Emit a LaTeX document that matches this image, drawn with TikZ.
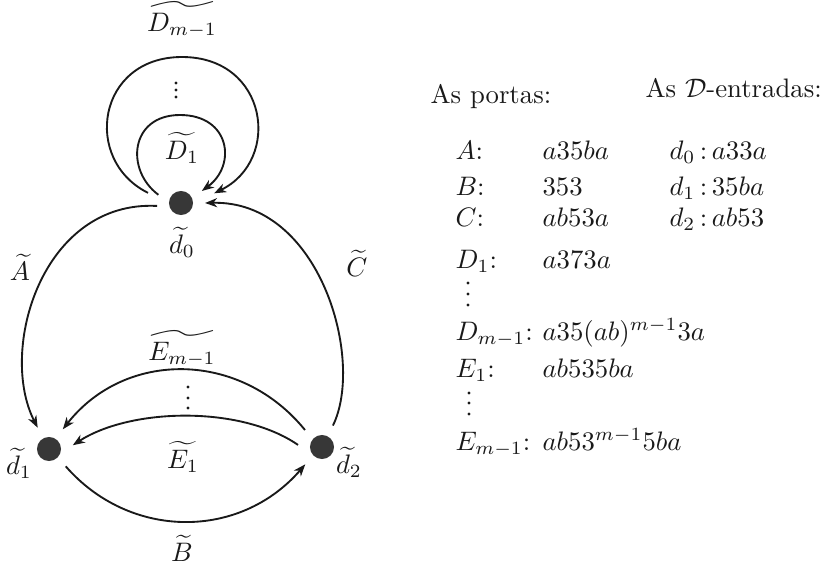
\documentclass[tikz,border=0pt]{standalone}
\usepackage{amsmath,amssymb}
\usepackage{tikz}
\usetikzlibrary{arrows.meta}
\definecolor{ink}{RGB}{25,25,25}
\definecolor{dotfill}{RGB}{55,55,55}
\def\ColL{455}
\def\ColV{542}
\def\ColD{669}
\tikzset{
  vertex/.style={circle, fill=dotfill, minimum size=9pt, inner sep=0pt, outer sep=4.5pt},
  wire/.style={-{Stealth[length=4.5pt,width=3.4pt,inset=1.4pt]}, line width=0.7pt, draw=ink},
  lbl/.style={inner sep=0pt, text=ink},
  entry/.style={anchor=base west, inner sep=0pt, text=ink},
  pip/.style={circle, fill=ink, minimum size=1.2pt, inner sep=0pt},
}
\begin{document}
\begin{tikzpicture}[x=0.374pt,y=-0.374pt]
  \useasboundingbox (0,0) rectangle (821,566);

  % the three D-entries
  \node[vertex] (d0) at (181,203) {};
  \node[vertex] (d1) at (49,449) {};
  \node[vertex] (d2) at (322,447) {};
  \node[lbl] (ld0) at (182,242) {$\widetilde{d}_0$};
  \node[lbl] (ld1) at (19,463) {$\widetilde{d}_1$};
  \node[lbl] (ld2) at (349,462) {$\widetilde{d}_2$};

  % loops at d0
  \draw[wire] (d0.160) .. controls (125,170) and (130,115) .. (180,115)
    .. controls (230,115) and (237,165) .. (d0.30);
  \draw[wire, shorten <=4pt, shorten >=4pt] (d0.167) .. controls (82,160) and (97,57) .. (182,57)
    .. controls (268,57) and (282,160) .. (d0.12);
  \node[lbl] (lD1) at (182,148) {$\widetilde{D_1}$};
  \node[lbl] (lDm) at (182,20) {$\widetilde{D_{m-1}}$};
  \foreach \k/\y in {1/83,2/90,3/97}
    \node[pip] (vD\k) at (176,\y) {};

  % ports between the entries
  \draw[wire] (d0.187) .. controls (42,200) and (-2,350) .. (d1.118);
  \draw[wire] (d2.63) .. controls (365,360) and (320,200) .. (d0.east);
  \draw[wire] (d1.-46) .. controls (130,540) and (240,540) .. (d2.-134);
  \draw[wire] (d2.175) .. controls (240,405) and (130,408) .. (d1.9);
  \draw[wire] (d2.135) .. controls (240,350) and (125,350) .. (d1.55);
  \node[lbl] (lA) at (20,267) {$\widetilde{A}$};
  \node[lbl] (lC) at (357,263) {$\widetilde{C}$};
  \node[lbl] (lB) at (182,548) {$\widetilde{B}$};
  \node[lbl] (lE1) at (183,457) {$\widetilde{E_1}$};
  \node[lbl] (lEm) at (182,349) {$\widetilde{E_{m-1}}$};
  \foreach \k/\y in {1/387,2/398,3/408}
    \node[pip] (vE\k) at (188,\y) {};

  % tables
  \node[entry] (hP) at (430,103) {As portas:};
  \node[entry] (hD) at (645,97) {As $\mathcal{D}$-entradas:};

  \node[entry] (pA) at (\ColL,159) {$A$:};
  \node[entry] (wA) at (\ColV,159) {$a35ba$};
  \node[entry] (pB) at (\ColL,195) {$B$:};
  \node[entry] (wB) at (\ColV,195) {353};
  \node[entry] (pC) at (\ColL,226) {$C$:};
  \node[entry] (wC) at (\ColV,226) {$ab53a$};
  \node[entry] (pD1) at (\ColL,268) {$D_1$:};
  \node[entry] (wD1) at (\ColV,268) {$a373a$};
  \foreach \k/\y in {1/283,2/294,3/305}
    \node[pip] (vP\k) at (468,\y) {};
  \node[entry] (pDm) at (\ColL,340) {$D_{m-1}$:};
  \node[entry] (wDm) at (\ColV,340) {$a35(ab)^{m-1}3a$};
  \node[entry] (pE1) at (\ColL,377) {$E_1$:};
  \node[entry] (wE1) at (\ColV,377) {$ab535ba$};
  \foreach \k/\y in {1/393,2/403,3/414}
    \node[pip] (vQ\k) at (469,\y) {};
  \node[entry] (pEm) at (\ColL,450) {$E_{m-1}$:};
  \node[entry] (wEm) at (\ColV,450) {$ab53^{m-1}5ba$};

  \node[entry] (e0) at (\ColD,159) {$d_0$\,:\,$a33a$};
  \node[entry] (e1) at (\ColD,195) {$d_1$\,:\,$35ba$};
  \node[entry] (e2) at (\ColD,226) {$d_2$\,:\,$ab53$};
\end{tikzpicture}
\end{document}
